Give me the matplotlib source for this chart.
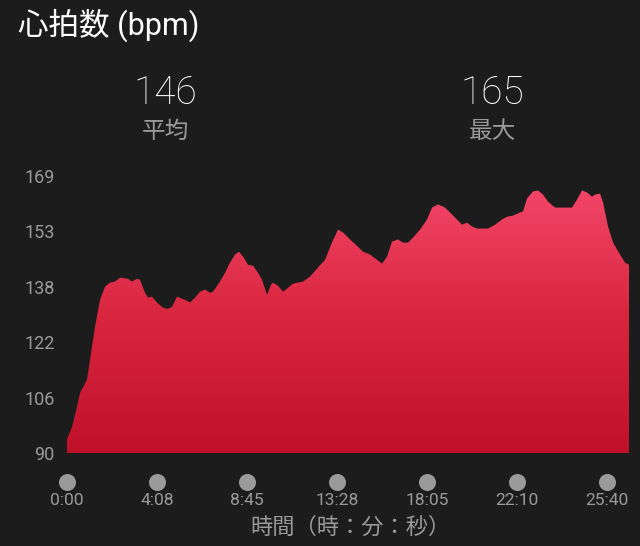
import matplotlib.pyplot as plt
import numpy as np
from matplotlib.colors import LinearSegmentedColormap
import matplotlib.transforms as mtransforms

plt.rcParams['font.family'] = ['Roboto', 'Noto Sans CJK JP', 'DejaVu Sans']

# position along the run, in tick intervals (ticks evenly spaced)
pos = [0.000, 0.056, 0.111, 0.144, 0.222, 0.256, 0.311, 0.367, 0.422, 0.478,
       0.533, 0.589, 0.678, 0.722, 0.778, 0.811, 0.867, 0.900, 0.944, 1.000,
       1.067, 1.122, 1.167, 1.222, 1.278, 1.311, 1.367, 1.422, 1.478, 1.533,
       1.589, 1.622, 1.700, 1.756, 1.811, 1.867, 1.911, 1.956, 2.011, 2.067,
       2.122, 2.167, 2.222, 2.267, 2.289, 2.344, 2.400, 2.456, 2.511, 2.567,
       2.622, 2.700, 2.789, 2.867, 2.944, 3.011, 3.067, 3.144, 3.222, 3.289,
       3.367, 3.444, 3.500, 3.556, 3.611, 3.678, 3.733, 3.789, 3.844, 3.922,
       4.000, 4.056, 4.122, 4.200, 4.278, 4.333, 4.389, 4.444, 4.500, 4.556,
       4.678, 4.756, 4.833, 4.889, 4.956, 5.033, 5.067, 5.111, 5.178, 5.233,
       5.289, 5.344, 5.422, 5.478, 5.611, 5.667, 5.722, 5.778, 5.833, 5.867,
       5.922, 5.956, 6.011, 6.067, 6.144, 6.200, 6.244]
bpm = [94.0, 97.4, 103.1, 107.1, 110.9, 116.6, 126.0, 133.7, 137.4, 138.6,
       138.9, 140.0, 139.7, 138.9, 139.7, 139.4, 135.7, 134.3, 134.6, 132.9,
       131.4, 131.1, 131.7, 134.6, 134.0, 133.7, 132.9, 134.3, 136.0, 136.6,
       135.7, 136.0, 138.9, 141.4, 144.3, 146.6, 147.4, 146.0, 143.7, 143.4,
       141.4, 139.4, 135.1, 138.0, 138.6, 137.7, 136.0, 137.1, 138.3, 138.6,
       138.9, 140.3, 142.9, 145.1, 150.0, 153.7, 152.9, 150.9, 149.1, 147.4,
       146.6, 145.1, 144.0, 146.0, 150.3, 150.9, 150.0, 150.0, 151.4, 153.7,
       156.6, 160.0, 160.9, 160.0, 158.0, 156.6, 155.1, 155.7, 154.6, 154.0,
       154.0, 155.1, 156.6, 157.4, 157.7, 158.6, 158.9, 162.6, 164.6, 164.9,
       163.7, 161.7, 160.0, 160.0, 160.0, 162.3, 164.9, 164.3, 163.1, 163.7,
       164.0, 161.4, 154.6, 150.0, 146.6, 144.3, 143.7]

time_labels = ['0:00', '4:08', '8:45', '13:28', '18:05', '22:10', '25:40']
ytick_labels = ['90', '106', '122', '138', '153', '169']
avg_hr = 146
max_hr = 165

bg = '#1c1c1c'
grey = '#9a9a9a'

fig = plt.figure(figsize=(6.4, 5.46), dpi=100, facecolor=bg)
ax = fig.add_axes([67/640, 1-453/546, (629-67)/640, (453-176)/546])
ax.set_facecolor(bg)

ymin, ymax = 90, 169
xmax = pos[-1]
ax.set_xlim(0, xmax)
ax.set_ylim(ymin, ymax)

# gradient fill clipped to the area
poly = ax.fill_between(pos, bpm, ymin, color='none', lw=0)
cmap = LinearSegmentedColormap.from_list('hr', ['#c0112a', '#d9263f', '#f5496c'])
grad = np.linspace(0, 1, 256).reshape(-1, 1)
img = ax.imshow(grad, cmap=cmap, origin='lower', aspect='auto',
                extent=[0, xmax, ymin, ymax], interpolation='bicubic')
path = poly.get_paths()[0]
img.set_clip_path(path, transform=ax.transData)

for s in ax.spines.values():
    s.set_visible(False)

ax.set_yticks(np.linspace(ymin, ymax, 6))
ax.set_yticklabels(ytick_labels)
ax.tick_params(axis='y', length=0, pad=9, colors=grey, labelsize=13)

ax.set_xticks([])
trans = mtransforms.blended_transform_factory(ax.transData, ax.transAxes)
ticks = np.arange(len(time_labels))
ax.scatter(ticks, [-0.105] * len(ticks), s=150, color=grey, transform=trans,
           clip_on=False, zorder=5, lw=0)
for t, lab in zip(ticks, time_labels):
    ax.text(t, -0.17, lab, transform=trans, ha='center', va='center',
            color=grey, fontsize=12.5)

fig.text(350/640, 1-528/546, '時間（時：分：秒）', ha='center', va='center',
         color=grey, fontsize=16)

fig.text(18/640, 1-25/546, '心拍数 (bpm)', ha='left', va='center',
         color='white', fontsize=22)

fig.text(165/640, 1-93/546, str(avg_hr), ha='center', va='center',
         color='white', fontsize=28, fontweight='light')
fig.text(165/640, 1-131/546, '平均', ha='center', va='center',
         color=grey, fontsize=17)
fig.text(492/640, 1-93/546, str(max_hr), ha='center', va='center',
         color='white', fontsize=28, fontweight='light')
fig.text(492/640, 1-131/546, '最大', ha='center', va='center',
         color=grey, fontsize=17)

fig.savefig('out.png', dpi=100, facecolor=bg)
